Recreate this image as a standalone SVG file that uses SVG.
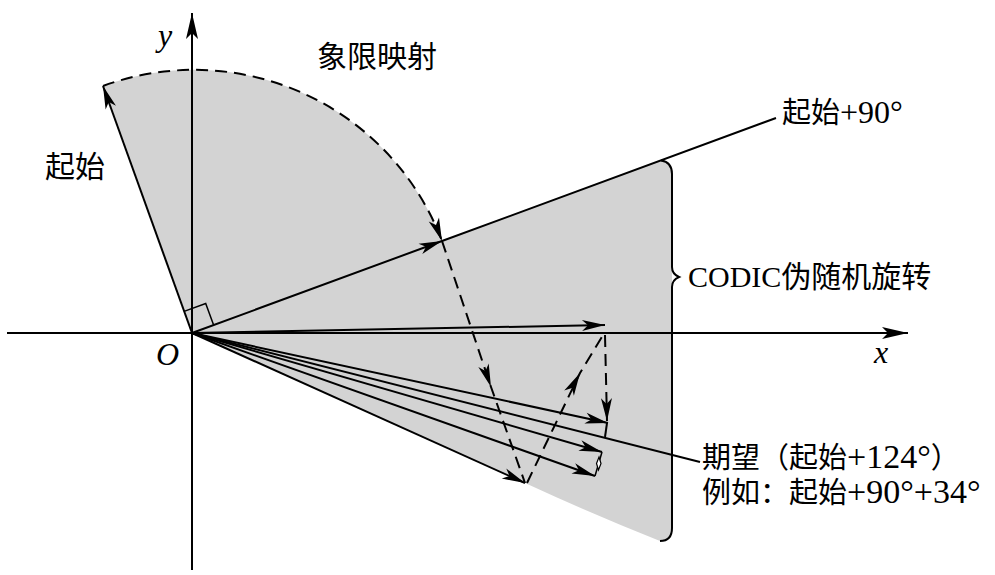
<svg xmlns="http://www.w3.org/2000/svg" width="995" height="575" viewBox="0 0 995 575">
<style>
.ln{stroke:#000;stroke-width:2;fill:none}
.ds{stroke:#000;stroke-width:2;fill:none;stroke-dasharray:12 7}
.t{font-family:"Liberation Serif","Noto Sans CJK SC",serif;font-size:30px;fill:#000}
.c29{font-size:29px}
.l32{font-size:32px}
.l34{font-size:34px}
.it{font-family:"Liberation Serif",serif;font-style:italic;font-size:32px;fill:#000}
</style>
<defs>
<marker id="ah" viewBox="-25 -7 27 14" refX="0" refY="0" markerWidth="27" markerHeight="14" markerUnits="userSpaceOnUse" orient="auto"><path d="M0,0 L-23,-5.5 L-17,0 L-23,5.5 Z" fill="#000"/></marker>
<marker id="ax" viewBox="-28 -7 30 14" refX="0" refY="0" markerWidth="30" markerHeight="14" markerUnits="userSpaceOnUse" orient="auto"><path d="M0,0 L-26,-6 L-20,0 L-26,6 Z" fill="#000"/></marker>
</defs>
<g id="region">
<path d="M192,333 L103,86 A265,265 0 0 1 442,241 L661,160.5 Q672,162 672,174 L672,528 Q672,541 660,541 Q592,514 525,483 Z" fill="#d3d3d3"/>
<path class="ln" d="M661,160.5 Q672,162 672,174 L672,267 Q672,274 679,277 Q672,280 672,287 L672,528 Q672,541 660,541"/>
</g>
<g id="axes">
<line class="ln" x1="7" y1="333" x2="908" y2="333" marker-end="url(#ax)"/>
<line class="ln" x1="192" y1="570" x2="192" y2="13" marker-end="url(#ax)"/>
</g>
<g id="connectors">
<line class="ln" x1="192" y1="333" x2="103" y2="86" marker-end="url(#ah)"/>
<path class="ln" d="M192,333 L442,241 L776,118" marker-mid="url(#ah)"/>
<polyline class="ln" points="184.1,311.4 205.7,303.5 213.6,325.1" style="stroke-width:1.5"/>
<line class="ln" x1="192" y1="333" x2="605" y2="325" marker-end="url(#ah)"/>
<line class="ln" x1="192" y1="333" x2="608" y2="423" marker-end="url(#ah)"/>
<line class="ln" x1="192" y1="333" x2="700" y2="462"/>
<line class="ln" x1="192" y1="333" x2="602" y2="452" marker-end="url(#ah)"/>
<line class="ln" x1="192" y1="333" x2="595" y2="476" marker-end="url(#ah)"/>
<line class="ln" x1="192" y1="333" x2="525" y2="483" marker-end="url(#ah)"/>
<line class="ln" x1="607" y1="423" x2="605" y2="437"/>
<line class="ln" x1="602" y1="452" x2="595" y2="476" style="stroke-width:1.5"/>
<path d="M599,457 L601,463.5 L598.5,470 L596.5,463.5 Z" fill="#fff" stroke="#000" stroke-width="1.2"/>
<path class="ds" d="M103,86 A265,265 0 0 1 442,241" marker-end="url(#ah)"/>
<path class="ds" d="M442,241 L491,387 L525,483" marker-mid="url(#ah)"/>
<path class="ds" d="M527,483 L580,373 L603,335" marker-mid="url(#ah)"/>
<path class="ds" d="M605,335 L607,421" marker-end="url(#ah)"/>
</g>
<g id="labels">
<text class="it" x="158" y="46">y</text>
<text class="it" x="156" y="365">O</text>
<text class="it" x="874" y="363">x</text>
<text class="t" x="317" y="67">象限映射</text>
<text class="t" x="45" y="177">起始</text>
<text class="t" x="782" y="123"><tspan class="c29">起始</tspan><tspan class="l32">+90°</tspan></text>
<text class="t" x="688" y="287">CODIC伪随机旋转</text>
<text class="t" x="702" y="468"><tspan class="c29">期望（起始</tspan><tspan class="l34">+124°</tspan><tspan class="c29">）</tspan></text>
<text class="t" x="702" y="503"><tspan class="c29">例如：起始</tspan><tspan class="l34">+90°+34°</tspan></text>
</g>
</svg>
